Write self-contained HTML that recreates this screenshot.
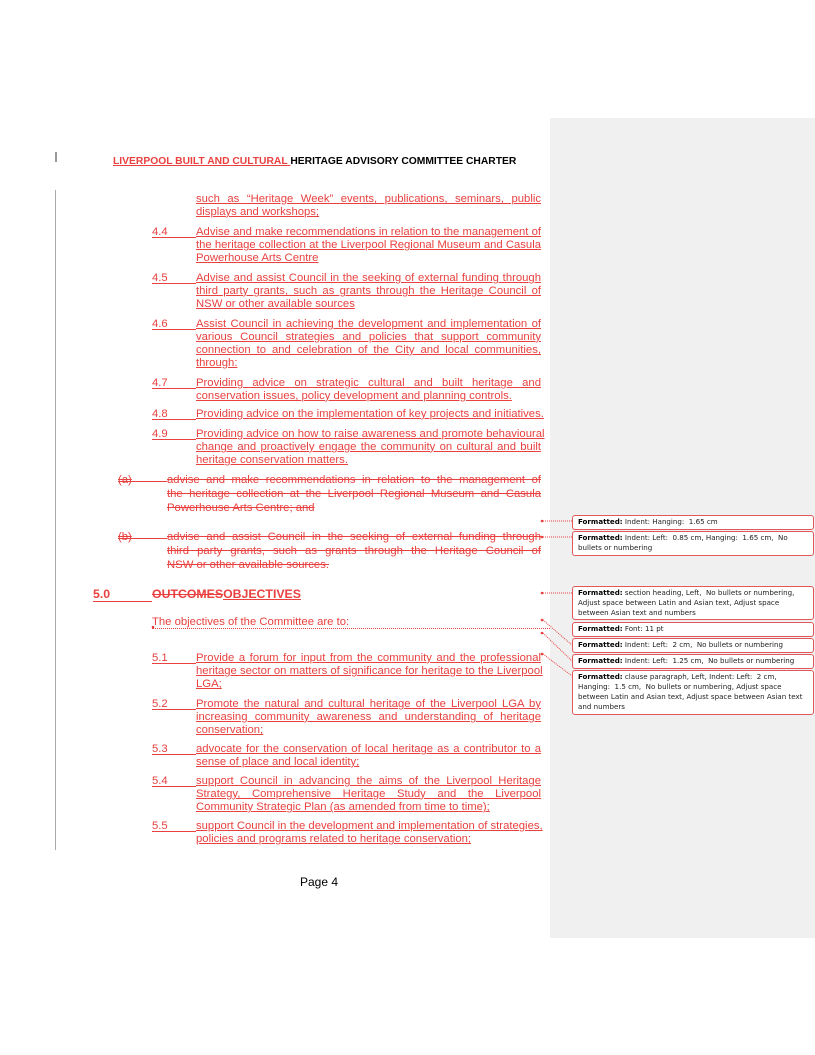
<!DOCTYPE html>
<html><head><meta charset="utf-8"><style>
body{margin:0;width:815px;height:1055px;background:#fff;position:relative;overflow:hidden;font-family:"Liberation Sans",Arial,sans-serif}
.l{position:absolute;left:196px;width:345px;font-size:11.3px;line-height:13px;color:#e8413f;white-space:nowrap;text-decoration:underline;text-decoration-thickness:1px}
.j{text-align:justify;text-align-last:justify}
.s{text-decoration:line-through;left:167px;width:374px}
.n{position:absolute;left:152px;width:44px;font-size:11.3px;line-height:13px;color:#e8413f;border-bottom:1px solid #e8413f;height:11px}
.ns{position:absolute;left:118px;width:49px;font-size:11.3px;line-height:13px;color:#e8413f;text-decoration:line-through}
.ns span{display:inline-block;width:49px;border-top:1px solid #e8413f;position:absolute;left:0;top:7px}
.panel{position:absolute;left:550px;top:118px;width:265px;height:820px;background:#f0f0f0}
.b{position:absolute;left:572px;width:231px;border:1px solid #e0585a;border-radius:3px;background:#fff;font-family:"DejaVu Sans",sans-serif;font-size:7.1px;line-height:10px;padding:1px 4px 1px 5px;color:#222}
.b b{color:#000}
</style></head><body>
<div class="panel"></div>
<div style="position:absolute;left:55px;top:152px;width:2px;height:10px;background:#999"></div>
<div style="position:absolute;left:55px;top:190px;width:1px;height:660px;background:#aaa"></div>
<div style="position:absolute;left:113px;top:156px;font-size:10.3px;font-weight:bold;white-space:nowrap"><span style="color:#e8413f;text-decoration:underline">LIVERPOOL BUILT AND CULTURAL </span>HERITAGE ADVISORY COMMITTEE CHARTER</div>

<div class="l j" style="top:193px">such as “Heritage Week” events, publications, seminars, public</div>
<div class="l" style="top:206px">displays and workshops;</div>
<div class="n" style="top:226px">4.4</div>
<div class="l j" style="top:226px">Advise and make recommendations in relation to the management of</div>
<div class="l j" style="top:239px">the heritage collection at the Liverpool Regional Museum and Casula</div>
<div class="l" style="top:252px">Powerhouse Arts Centre</div>
<div class="n" style="top:272px">4.5</div>
<div class="l j" style="top:272px">Advise and assist Council in the seeking of external funding through</div>
<div class="l j" style="top:285px">third party grants, such as grants through the Heritage Council of</div>
<div class="l" style="top:298px">NSW or other available sources</div>
<div class="n" style="top:318px">4.6</div>
<div class="l j" style="top:318px">Assist Council in achieving the development and implementation of</div>
<div class="l j" style="top:331px">various Council strategies and policies that support community</div>
<div class="l j" style="top:344px">connection to and celebration of the City and local communities,</div>
<div class="l" style="top:357px">through:</div>
<div class="n" style="top:377px">4.7</div>
<div class="l j" style="top:377px">Providing advice on strategic cultural and built heritage and</div>
<div class="l" style="top:390px">conservation issues, policy development and planning controls.</div>
<div class="n" style="top:408px">4.8</div>
<div class="l" style="top:408px">Providing advice on the implementation of key projects and initiatives.</div>
<div class="n" style="top:428px">4.9</div>
<div class="l j" style="top:428px">Providing advice on how to raise awareness and promote behavioural</div>
<div class="l j" style="top:441px">change and proactively engage the community on cultural and built</div>
<div class="l" style="top:454px">heritage conservation matters.</div>

<div class="ns" style="top:474px">(a)<span></span></div>
<div class="l j s" style="top:474px">advise and make recommendations in relation to the management of</div>
<div class="l j s" style="top:488px">the heritage collection at the Liverpool Regional Museum and Casula</div>
<div class="l s" style="top:502px">Powerhouse Arts Centre; and</div>
<div class="ns" style="top:531px">(b)<span></span></div>
<div class="l j s" style="top:531px">advise and assist Council in the seeking of external funding through</div>
<div class="l j s" style="top:545px">third party grants, such as grants through the Heritage Council of</div>
<div class="l s" style="top:559px">NSW or other available sources.</div>

<div style="position:absolute;left:93px;top:587px;width:59px;font-size:12.3px;font-weight:bold;color:#e8413f;border-bottom:1px solid #e8413f;height:14px">5.0</div>
<div style="position:absolute;left:152px;top:587px;font-size:12.3px;font-weight:bold;color:#e8413f;white-space:nowrap"><span style="text-decoration:line-through">OUTCOMES</span><span style="text-decoration:underline">OBJECTIVES</span></div>
<div style="position:absolute;left:152px;top:616px;font-size:11.3px;color:#e8413f">The objectives of the Committee are to:</div>
<div style="position:absolute;left:152px;top:628px;width:398px;border-top:1px dotted #e8413f"></div>

<div class="n" style="top:652px">5.1</div>
<div class="l j" style="top:652px">Provide a forum for input from the community and the professional</div>
<div class="l j" style="top:665px">heritage sector on matters of significance for heritage to the Liverpool</div>
<div class="l" style="top:678px">LGA;</div>
<div class="n" style="top:698px">5.2</div>
<div class="l j" style="top:698px">Promote the natural and cultural heritage of the Liverpool LGA by</div>
<div class="l j" style="top:711px">increasing community awareness and understanding of heritage</div>
<div class="l" style="top:724px">conservation;</div>
<div class="n" style="top:743px">5.3</div>
<div class="l j" style="top:743px">advocate for the conservation of local heritage as a contributor to a</div>
<div class="l" style="top:756px">sense of place and local identity;</div>
<div class="n" style="top:775px">5.4</div>
<div class="l j" style="top:775px">support Council in advancing the aims of the Liverpool Heritage</div>
<div class="l j" style="top:788px">Strategy, Comprehensive Heritage Study and the Liverpool</div>
<div class="l" style="top:801px">Community Strategic Plan (as amended from time to time);</div>
<div class="n" style="top:820px">5.5</div>
<div class="l j" style="top:820px">support Council in the development and implementation of strategies,</div>
<div class="l" style="top:833px">policies and programs related to heritage conservation;</div>

<div style="position:absolute;left:300px;top:875px;font-size:12px;color:#000">Page 4</div>

<svg style="position:absolute;left:0;top:0" width="815" height="1055">
<g stroke="#e8413f" stroke-width="1" stroke-dasharray="1,1" fill="none">
<line x1="543" y1="521" x2="572" y2="521"/>
<line x1="543" y1="537" x2="572" y2="537"/>
<line x1="543" y1="593" x2="572" y2="593"/>
<line x1="543" y1="620" x2="572" y2="645"/>
<line x1="543" y1="633" x2="572" y2="661"/>
<line x1="543" y1="654" x2="572" y2="676"/>
</g>
<g fill="#e8413f"><circle cx="542" cy="521" r="1.3"/><circle cx="542" cy="537" r="1.3"/><circle cx="542" cy="593" r="1.3"/><circle cx="542" cy="620" r="1.3"/><circle cx="542" cy="633" r="1.3"/><circle cx="542" cy="654" r="1.3"/><circle cx="153" cy="627" r="1.3"/></g>
</svg>

<div class="b" style="top:515px;height:11px"><b>Formatted:</b> Indent: Hanging:&nbsp; 1.65 cm</div>
<div class="b" style="top:531px;height:21px"><b>Formatted:</b> Indent: Left:&nbsp; 0.85 cm, Hanging:&nbsp; 1.65 cm,&nbsp; No bullets or numbering</div>
<div class="b" style="top:586px;height:30px"><b>Formatted:</b> section heading, Left,&nbsp; No bullets or numbering, Adjust space between Latin and Asian text, Adjust space between Asian text and numbers</div>
<div class="b" style="top:622px;height:11px"><b>Formatted:</b> Font: 11 pt</div>
<div class="b" style="top:638px;height:11px"><b>Formatted:</b> Indent: Left:&nbsp; 2 cm,&nbsp; No bullets or numbering</div>
<div class="b" style="top:654px;height:11px"><b>Formatted:</b> Indent: Left:&nbsp; 1.25 cm,&nbsp; No bullets or numbering</div>
<div class="b" style="top:670px;height:41px"><b>Formatted:</b> clause paragraph, Left, Indent: Left:&nbsp; 2 cm, Hanging:&nbsp; 1.5 cm,&nbsp; No bullets or numbering, Adjust space between Latin and Asian text, Adjust space between Asian text and numbers</div>
</body></html>
